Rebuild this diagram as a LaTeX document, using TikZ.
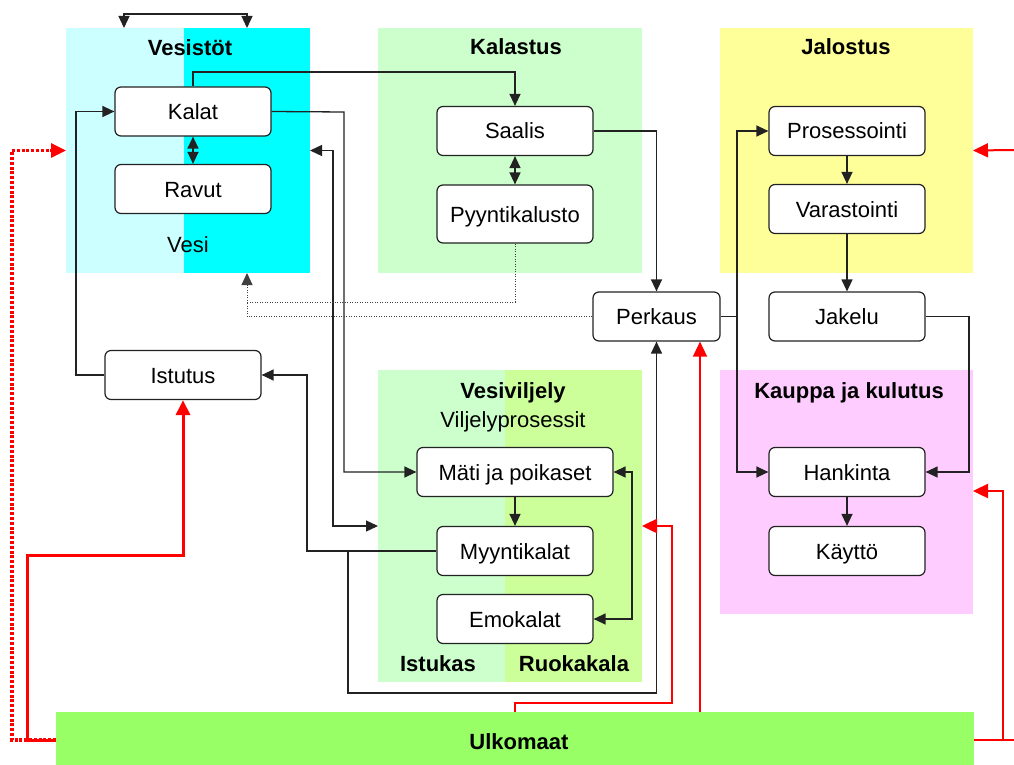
\documentclass[tikz,border=0pt]{standalone}
\usepackage{fontspec}
\setmainfont{Liberation Sans}
\usetikzlibrary{arrows.meta}
\definecolor{cyanlt}{HTML}{CCFFFF}
\definecolor{cyanfull}{HTML}{00FFFF}
\definecolor{greenlt}{HTML}{CCFFCC}
\definecolor{limelt}{HTML}{CCFF99}
\definecolor{yellowlt}{HTML}{FFFF99}
\definecolor{pinklt}{HTML}{FFCCFF}
\definecolor{ulkogreen}{HTML}{99FF66}
\definecolor{lc}{HTML}{222222}
\definecolor{redc}{HTML}{FF0000}
\begin{document}
\begin{tikzpicture}[x=1pt,y=-1pt,
  txt/.style={font=\fontsize{22}{26}\selectfont, inner sep=0pt, anchor=base},
  ttl/.style={font=\fontsize{22}{26}\selectfont\bfseries, inner sep=0pt, anchor=base},
  region/.style={inner sep=0pt, outer sep=0pt},
  box/.style={draw=lc, line width=1.2pt, rounded corners=6pt, fill=white,
    minimum width=156pt, minimum height=49pt, inner sep=0pt,
    text height=16pt, text depth=0pt, font=\fontsize{22}{26}\selectfont},
  conn/.style={draw=lc, line width=1.3pt, -{Triangle[length=12pt,width=11pt]}},
  dconn/.style={draw=lc, line width=1.3pt, {Triangle[length=12pt,width=11pt]}-{Triangle[length=12pt,width=11pt]}},
  plain/.style={draw=lc, line width=1.3pt},
  dotline/.style={draw=black!75, line width=1pt, dash pattern=on 1pt off 1.5pt},
  dotconn/.style={dotline, -{Triangle[length=12pt,width=11pt]}},
  redarrow/.style={draw=redc, line width=#1, -{Triangle[length=15pt,width=14pt]}},
  redplain/.style={draw=redc, line width=#1},
  reddot/.style={draw=redc, line width=3.2pt, dash pattern=on 3pt off 1.8pt, -{Triangle[length=15pt,width=14pt]}}
]
\useasboundingbox (0,0) rectangle (1014,765);

% regions
\fill[cyanlt] (66,28) rectangle (184,273);
\fill[cyanfull] (184,28) rectangle (310,273);
\node[region, minimum width=244pt, minimum height=245pt] (vesisto) at (188,150.5) {};
\node[region, fill=greenlt, minimum width=264pt, minimum height=245pt] (kalastus) at (510,150.5) {};
\node[region, fill=yellowlt, minimum width=253pt, minimum height=245pt] (jalostus) at (846.5,150.5) {};
\fill[greenlt] (378,370) rectangle (505,682);
\fill[limelt] (505,370) rectangle (642,682);
\node[region, minimum width=264pt, minimum height=312pt] (vesiv) at (510,526) {};
\node[region, fill=pinklt, minimum width=253pt, minimum height=244pt] (kauppa) at (846.5,492) {};
\node[region, fill=ulkogreen, minimum width=918pt, minimum height=56pt] (ulko) at (515,740) {};

% titles and labels
\node[ttl] (tVesistot) at (190,56) {Vesistöt};
\node[txt] (tVesi) at (188,252) {Vesi};
\node[ttl] (tKalastus) at (516,55) {Kalastus};
\node[ttl] (tJalostus) at (846,55) {Jalostus};
\node[ttl] (tKauppa) at (849,398) {Kauppa ja kulutus};
\node[ttl] (tVesiv) at (513,398) {Vesiviljely};
\node[txt] (tVilj) at (513,427) {Viljelyprosessit};
\node[ttl] (tIstukas) at (438,671) {Istukas};
\node[ttl] (tRuoka) at (574,671) {Ruokakala};
\node[ttl] (tUlko) at (519,749) {Ulkomaat};

% boxes
\node[box] (kalat) at (193,111.5) {Kalat};
\node[box] (ravut) at (193,189) {Ravut};
\node[box] (saalis) at (515,131) {Saalis};
\node[box, minimum height=58pt] (pyynti) at (515,214) {Pyyntikalusto};
\node[box] (proses) at (847,131) {Prosessointi};
\node[box] (varast) at (847,209) {Varastointi};
\node[box] (jakelu) at (847,316.5) {Jakelu};
\node[box, minimum width=127pt] (perkaus) at (656.5,316.5) {Perkaus};
\node[box] (istutus) at (183,375) {Istutus};
\node[box] (hankinta) at (847,472) {Hankinta};
\node[box] (kaytto) at (847,551) {Käyttö};
\node[box, minimum width=196pt] (mati) at (515,472) {Mäti ja poikaset};
\node[box] (myynti) at (515,551) {Myyntikalat};
\node[box] (emo) at (515,619) {Emokalat};

% waypoints
\coordinate (t1) at (124,14);
\coordinate (t2) at (247,14);
\coordinate (k1) at (193,72);
\coordinate (i1) at (76,375);
\coordinate (m1) at (344,112);
\coordinate (v1) at (333,150);
\coordinate (v2) at (333,526);
\coordinate (y1) at (307,551);
\coordinate (y2) at (348,551);
\coordinate (y3) at (348,693);
\coordinate (e1) at (632,472);
\coordinate (d1) at (247,302);
\coordinate (p1) at (737,316);
\coordinate (j1) at (969,316);
\coordinate (r1) at (12,740);
\coordinate (r2) at (27,555);
\coordinate (r3) at (515,703);
\coordinate (r4) at (672,526);
\coordinate (r5) at (700,700);
\coordinate (r6) at (1003,491);
\coordinate (r7) at (1014,740);
\coordinate (r8) at (1014,150);

% black connectors
\draw[dconn] (vesisto.north -| t1) -- (t1) -- (t2) -- (vesisto.north -| t2);
\draw[conn] (kalat.north) -- (k1) -| (saalis.north);
\draw[dconn] (kalat.south) -- (ravut.north);
\draw[dconn] (saalis.south) -- (pyynti.north);
\draw[conn] (istutus.west) -- (i1) |- (kalat.west);
\draw[conn] (kalat.east) -- (m1) |- (mati.west);
\draw[dconn] (vesisto.east) -- (v1 |- vesisto.east) -- (v2) -- (vesiv.west);
\draw[conn] (myynti.west) -- (y1) |- (istutus.east);
\draw[conn] (y2) -- (y3) -| (perkaus.south);
\draw[conn] (mati.south) -- (myynti.north);
\draw[dconn] (mati.east) -- (e1) |- (emo.east);
\draw[conn] (saalis.east) -| (perkaus.north);
\draw[dotconn] (pyynti.south) |- (d1) -- (vesisto.south -| d1);
\draw[dotline] (perkaus.west) -- (perkaus.west -| d1) -- (d1);
\draw[plain] (perkaus.east) -- (perkaus.east -| p1);
\draw[conn] (perkaus.east -| p1) |- (proses.west);
\draw[conn] (perkaus.east -| p1) |- (hankinta.west);
\draw[conn] (proses.south) -- (varast.north);
\draw[conn] (varast.south) -- (jakelu.north);
\draw[conn] (jakelu.east) -- (jakelu.east -| j1) |- (hankinta.east);
\draw[conn] (hankinta.south) -- (kaytto.north);

% red connectors
\draw[redarrow=3pt] (ulko.west) -| (r2) -| (istutus.south);
\draw[reddot] (ulko.west) -- (r1) |- (vesisto.west);
\draw[redarrow=2.5pt] (ulko.north -| r3) -- (r3) -- (r3 -| r4) -- (r4) -- (vesiv.east);
\draw[redarrow=1.5pt] (ulko.north -| r5) -- (perkaus.south -| r5);
\draw[redplain=2.5pt] (ulko.east) -- (r7);
\draw[redarrow=2.5pt] (ulko.east -| r6) -- (r6) -- (kauppa.east |- r6);
\draw[redarrow=2pt] (r8) -- (jalostus.east);
\end{tikzpicture}
\end{document}
